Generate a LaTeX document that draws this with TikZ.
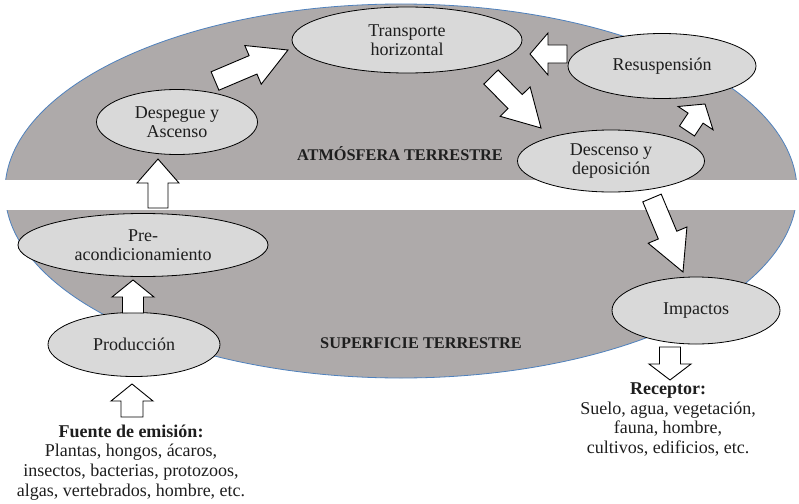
\documentclass[tikz,border=0pt]{standalone}
\usepackage{fontspec}
\setmainfont{Liberation Serif}
\usetikzlibrary{calc,shapes.geometric}

\definecolor{skygray}{HTML}{AEAAAA}
\definecolor{stagegray}{HTML}{D9D9D9}
\definecolor{rimblue}{HTML}{4F81BD}
\definecolor{inkgray}{HTML}{1E1E1E}

\newcommand\stagefont{\fontsize{18}{19.6}\selectfont}
\newcommand\zonefont{\fontsize{16.3}{18}\selectfont\bfseries}

% Block arrow from tail #1 to tip #2; #3 = head length, #4 = half shaft width
\newcommand\blockarr[4]{%
  \draw[blockarrow]
    ($(#1)!#4!90:(#2)$) --
    ($(#2)!#3!(#1)!#4!-90:(#1)$) --
    ($(#2)!#3!(#1)!21pt!-90:(#1)$) --
    (#2) --
    ($(#2)!#3!(#1)!21pt!90:(#1)$) --
    ($(#2)!#3!(#1)!#4!90:(#1)$) --
    ($(#1)!#4!-90:(#2)$) -- cycle;}

\begin{document}
\begin{tikzpicture}[x=1pt,y=-1pt,
  stage/.style={ellipse, draw=black, line width=0.8pt, fill=stagegray,
    inner sep=0pt, align=center, font=\stagefont, text=inkgray},
  blockarrow/.style={draw=black, line width=0.9pt, fill=white, line join=miter},
  zone/.style={font=\zonefont, inner sep=0pt, text=inkgray},
  note/.style={align=center, font=\stagefont, inner sep=0pt, text=inkgray}]

\useasboundingbox (0,0) rectangle (799,503);
\fill[white] (0,0) rectangle (799,503);

% atmosphere / surface domain, split by a white band
\path[fill=skygray, draw=rimblue, line width=0.8pt]
  (401,191) ellipse [x radius=396pt, y radius=187pt];
\fill[white] (0,180) rectangle (799,210);

% stages
\node[stage, minimum width=230pt, minimum height=66pt] (transporte) at (407,40) {Transporte\\horizontal};
\node[stage, minimum width=188pt, minimum height=65pt] (resusp) at (662,66) {Resuspensión};
\node[stage, minimum width=187pt, minimum height=62pt] (descenso) at (611,161) {Descenso y\\deposición};
\node[stage, minimum width=161pt, minimum height=65pt] (despegue) at (177,122) {Despegue y\\Ascenso};
\node[stage, minimum width=250pt, minimum height=63pt] (precond) at (143,245) {Pre-\\acondicionamiento};
\node[stage, minimum width=172pt, minimum height=64pt] (produccion) at (134,344.5) {Producción};
\node[stage, minimum width=168pt, minimum height=67pt] (impactos) at (696,310.5) {Impactos};

% zone labels
\node[zone, anchor=base] (atm) at (400,160) {ATMÓSFERA TERRESTRE};
\node[zone, anchor=base] (sup) at (421,348) {SUPERFICIE TERRESTRE};

% source and receptor notes
\node[note, anchor=north] (fuente) at (131,424.5)
  {\textbf{Fuente de emisión:}\\Plantas, hongos, ácaros,\\insectos, bacterias, protozoos,\\algas, vertebrados, hombre, etc.};
\node[note, anchor=north] (receptor) at (668,382.5)
  {\textbf{Receptor:}\\Suelo, agua, vegetación,\\fauna, hombre,\\cultivos, edificios, etc.};

% arrow ends
\coordinate (fuente-out) at (132,417);  \coordinate (prod-in) at (132,384);
\coordinate (prod-out) at (133,313);    \coordinate (pre-in) at (133,280);
\coordinate (pre-out) at (158,208);     \coordinate (desp-in) at (158,159);
\coordinate (desp-out) at (215,81);     \coordinate (trans-in) at (288,50);
\coordinate (trans-out) at (491,77);    \coordinate (desc-in) at (541,128);
\coordinate (desc-out) at (687,131);    \coordinate (resus-in) at (705,104);
\coordinate (resus-out) at (567,54);    \coordinate (trans-back) at (530,54);
\coordinate (desc-down) at (652,198);   \coordinate (imp-in) at (683,272);
\coordinate (imp-out) at (670,347);     \coordinate (rec-in) at (670,380);

\blockarr{fuente-out}{prod-in}{17pt}{11pt}
\blockarr{prod-out}{pre-in}{17pt}{10.5pt}
\blockarr{pre-out}{desp-in}{24pt}{10pt}
\blockarr{desp-out}{trans-in}{38pt}{10pt}
\blockarr{trans-out}{desc-in}{37pt}{10pt}
\blockarr{desc-out}{resus-in}{17pt}{9pt}
\blockarr{resus-out}{trans-back}{18pt}{9pt}
\blockarr{desc-down}{imp-in}{40pt}{10pt}
\blockarr{imp-out}{rec-in}{16pt}{10.5pt}

\end{tikzpicture}
\end{document}
